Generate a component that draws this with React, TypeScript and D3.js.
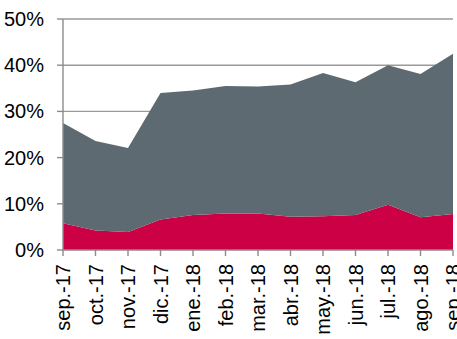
import React from "react";
import * as d3 from "d3";

// Monthly share series (percent)
const months = [
  "sep.-17", "oct.-17", "nov.-17", "dic.-17", "ene.-18", "feb.-18", "mar.-18",
  "abr.-18", "may.-18", "jun.-18", "jul.-18", "ago.-18", "sep.-18",
];
const redShare = [5.8, 4.2, 3.9, 6.6, 7.6, 7.9, 7.9, 7.2, 7.3, 7.6, 9.8, 7.1, 7.8];
const greyShare = [21.7, 19.4, 18.2, 27.4, 26.9, 27.6, 27.5, 28.6, 31.0, 28.7, 30.2, 31.0, 34.7];
const yTicks = [0, 10, 20, 30, 40, 50];

const W = 457;
const H = 339;
const M = { left: 63, right: 4, top: 19, bottom: 89 };

export default function App() {
  const x = d3
    .scalePoint<string>()
    .domain(months)
    .range([M.left, W - M.right]);
  const y = d3.scaleLinear().domain([0, 50]).range([H - M.bottom, M.top]);

  const rows = months.map((m, i) => ({ m, red: redShare[i], grey: greyShare[i] }));
  const stack = d3.stack<any>().keys(["red", "grey"])(rows);
  const area = d3
    .area<any>()
    .x((d) => x(d.data.m) as number)
    .y0((d) => y(d[0]))
    .y1((d) => y(d[1]));
  const colors: Record<string, string> = { red: "#cc0044", grey: "#5e6a71" };

  const font = "'Liberation Sans', Arial, sans-serif";
  const axisColor = "#8c8c8c";
  const x0 = M.left;
  const x1 = W - M.right;
  const yBase = y(0);

  return (
    <svg
      width={W}
      height={H}
      style={{ position: "absolute", left: 0, top: 0, background: "#fff" }}
      fontFamily={font}
    >
      {/* horizontal gridlines */}
      {yTicks.filter((t) => t > 0).map((t) => (
        <line key={t} x1={x0} x2={x1} y1={y(t)} y2={y(t)} stroke="#9a9a9a" strokeWidth={1.4} />
      ))}

      {/* stacked areas */}
      {stack.map((s) => (
        <path key={s.key} d={area(s) as string} fill={colors[s.key]} />
      ))}

      {/* y axis */}
      <line x1={x0} x2={x0} y1={y(50)} y2={yBase} stroke={axisColor} strokeWidth={1.4} />
      {yTicks.map((t) => (
        <g key={t}>
          <line x1={x0 - 6} x2={x0} y1={y(t)} y2={y(t)} stroke={axisColor} strokeWidth={1.4} />
          <text
            x={44}
            y={y(t)}
            textAnchor="end"
            dominantBaseline="central"
            fontSize={20}
            fill="#000"
          >
            {t}%
          </text>
        </g>
      ))}

      {/* x axis */}
      <line x1={x0} x2={x1} y1={yBase} y2={yBase} stroke={axisColor} strokeWidth={1.4} />
      {months.map((m) => {
        const px = x(m) as number;
        return (
          <g key={m}>
            <line x1={px} x2={px} y1={yBase} y2={yBase + 6} stroke={axisColor} strokeWidth={1.4} />
            <text
              transform={`translate(${px},${yBase + 14}) rotate(-90)`}
              textAnchor="end"
              dominantBaseline="central"
              fontSize={20}
              fill="#000"
            >
              {m}
            </text>
          </g>
        );
      })}
    </svg>
  );
}
